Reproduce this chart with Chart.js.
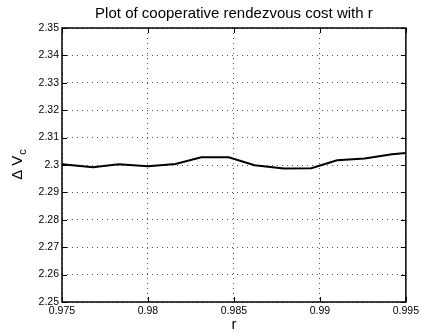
<!DOCTYPE html>
<html>
<head>
<meta charset="utf-8">
<script src="https://cdn.jsdelivr.net/npm/chart.js@4.4.0/dist/chart.umd.min.js"></script>
<style>
  html, body { margin: 0; padding: 0; background: #fff; }
  #wrap { width: 422px; height: 335px; position: relative; }
</style>
</head>
<body>
<div id="wrap"><canvas id="chart" width="422" height="335"></canvas></div>
<script>
const rValues = [0.975, 0.9768, 0.9783, 0.98, 0.9816, 0.9831, 0.9847, 0.9862, 0.9879, 0.9895, 0.991, 0.9926, 0.9942, 0.995];
const costValues = [2.3003, 2.2992, 2.3003, 2.2995, 2.3004, 2.3028, 2.3028, 2.2999, 2.2987, 2.2988, 2.3017, 2.3024, 2.3039, 2.3044];
const xTicks = [0.975, 0.98, 0.985, 0.99, 0.995];
const xTickLabels = ["0.975", "0.98", "0.985", "0.99", "0.995"];
const yTicks = [2.25, 2.26, 2.27, 2.28, 2.29, 2.3, 2.31, 2.32, 2.33, 2.34, 2.35];
const yTickLabels = ["2.25", "2.26", "2.27", "2.28", "2.29", "2.3", "2.31", "2.32", "2.33", "2.34", "2.35"];

const FONT = "Liberation Sans, Arial, Helvetica, sans-serif";

// matlab style box, inward ticks and text
const matlabFrame = {
  id: "matlabFrame",
  afterDraw(chart) {
    const { ctx, chartArea: a, scales } = chart;
    ctx.save();
    ctx.strokeStyle = "#000";
    ctx.lineWidth = 1;
    const tl = 5;
    ctx.beginPath();
    xTicks.forEach((v) => {
      const px = Math.round(scales.x.getPixelForValue(v)) + 0.5;
      ctx.moveTo(px, a.bottom);
      ctx.lineTo(px, a.bottom - tl);
      ctx.moveTo(px, a.top);
      ctx.lineTo(px, a.top + tl);
    });
    yTicks.forEach((v) => {
      const py = Math.round(scales.y.getPixelForValue(v)) + 0.5;
      ctx.moveTo(a.left, py);
      ctx.lineTo(a.left + tl, py);
      ctx.moveTo(a.right, py);
      ctx.lineTo(a.right - tl, py);
    });
    ctx.stroke();
    ctx.lineWidth = 1.5;
    ctx.strokeRect(a.left, a.top, a.right - a.left, a.bottom - a.top);

    ctx.fillStyle = "#000";
    ctx.textAlign = "center";
    ctx.textBaseline = "middle";
    ctx.font = "15px " + FONT;
    ctx.fillText("Plot of cooperative rendezvous cost with r", (a.left + a.right) / 2, 14);
    ctx.fillText("r", (a.left + a.right) / 2, 325);

    // y axis label with subscript
    ctx.translate(18, (a.top + a.bottom) / 2);
    ctx.rotate(-Math.PI / 2);
    ctx.textAlign = "left";
    ctx.font = "15px " + FONT;
    const main = "\u0394 V";
    const w = ctx.measureText(main).width;
    ctx.font = "11px " + FONT;
    const ws = ctx.measureText("c").width;
    const start = -(w + ws) / 2;
    ctx.font = "15px " + FONT;
    ctx.fillText(main, start, 0);
    ctx.font = "11px " + FONT;
    ctx.fillText("c", start + w + 1, 5);
    ctx.restore();
  },
};

new Chart(document.getElementById("chart"), {
  type: "line",
  data: {
    datasets: [
      {
        data: rValues.map((r, i) => ({ x: r, y: costValues[i] })),
        borderColor: "#000",
        borderWidth: 2,
        pointRadius: 0,
        tension: 0,
        fill: false,
      },
    ],
  },
  options: {
    responsive: false,
    animation: false,
    layout: { padding: { top: 28, right: 13, left: 0, bottom: 0 } },
    plugins: { legend: { display: false }, tooltip: { enabled: false } },
    scales: {
      x: {
        type: "linear",
        min: 0.975,
        max: 0.995,
        afterFit: (s) => { s.height = 33; },
        afterBuildTicks: (s) => { s.ticks = xTicks.map((v) => ({ value: v })); },
        ticks: {
          color: "#000",
          font: { family: FONT, size: 10.5 },
          padding: 3,
          maxRotation: 0,
          callback: (v, i) => xTickLabels[i],
        },
        grid: { color: "#555", lineWidth: 1, drawTicks: false },
        border: { display: false, dash: [1, 4] },
      },
      y: {
        min: 2.25,
        max: 2.35,
        afterFit: (s) => { s.width = 62; },
        afterBuildTicks: (s) => { s.ticks = yTicks.map((v) => ({ value: v })); },
        ticks: {
          color: "#000",
          font: { family: FONT, size: 10.5 },
          padding: 3,
          callback: (v, i) => yTickLabels[i],
        },
        grid: { color: "#555", lineWidth: 1, drawTicks: false },
        border: { display: false, dash: [1, 4] },
      },
    },
  },
  plugins: [matlabFrame],
});
</script>
</body>
</html>
